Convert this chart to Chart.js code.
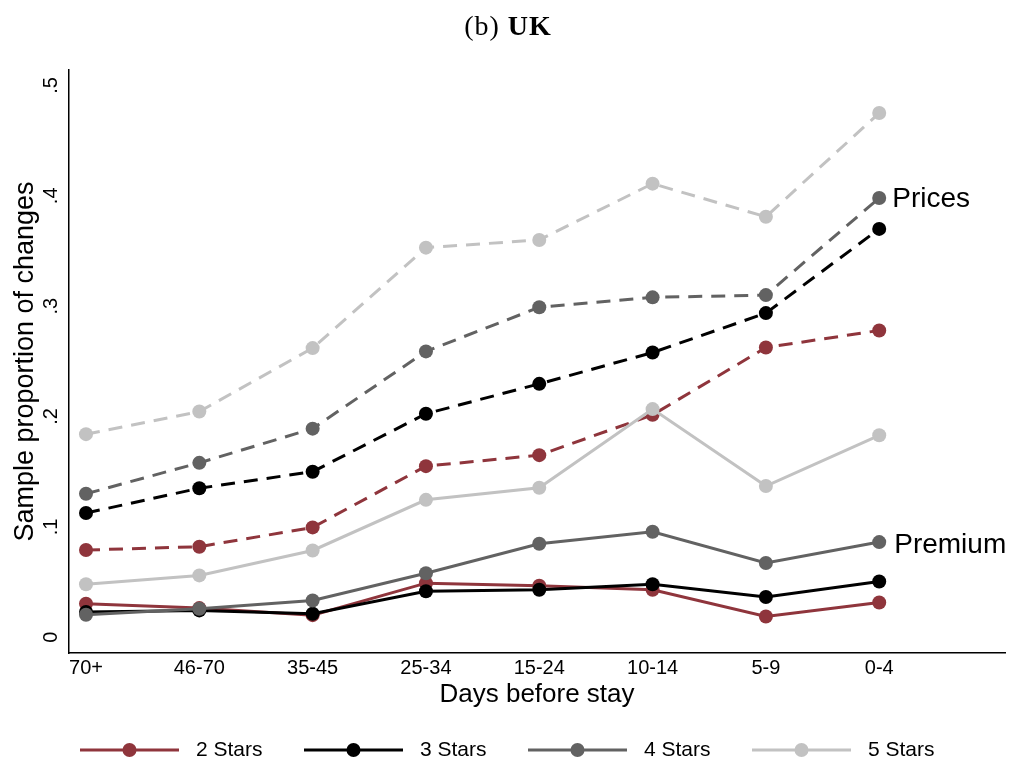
<!DOCTYPE html>
<html>
<head>
<meta charset="utf-8">
<script src="https://cdn.jsdelivr.net/npm/chart.js@4.4.0/dist/chart.umd.min.js"></script>
<style>
  html, body { margin: 0; padding: 0; background: #ffffff; }
  #wrap { width: 1017px; height: 762px; position: relative; }
</style>
</head>
<body>
<div id="wrap"><canvas id="c" width="1017" height="762"></canvas></div>
<script>
// Booking-window bins on the horizontal axis
const dayBins = ['70+', '46-70', '35-45', '25-34', '15-24', '10-14', '5-9', '0-4'];

// Hotel classes and their colours
const starLabels = ['2 Stars', '3 Stars', '4 Stars', '5 Stars'];
const starColors = ['#8f353c', '#000000', '#626262', '#c2c2c2'];

// Share of price changes (dashed lines)
const prices2 = [0.079, 0.082, 0.0995, 0.155, 0.165, 0.2015, 0.2625, 0.278];
const prices3 = [0.1125, 0.135, 0.150, 0.2025, 0.2296, 0.258, 0.2937, 0.370];
const prices4 = [0.130, 0.158, 0.189, 0.259, 0.299, 0.308, 0.310, 0.398];
const prices5 = [0.184, 0.2045, 0.262, 0.353, 0.360, 0.411, 0.381, 0.475];

// Share of premium changes (solid lines)
const premium2 = [0.0303, 0.0264, 0.020, 0.049, 0.0466, 0.043, 0.0188, 0.0315];
const premium3 = [0.0228, 0.0243, 0.0213, 0.0417, 0.043, 0.048, 0.0364, 0.0505];
const premium4 = [0.0204, 0.0258, 0.0333, 0.058, 0.0847, 0.0956, 0.0672, 0.0862];
const premium5 = [0.048, 0.056, 0.0786, 0.1245, 0.1354, 0.2067, 0.137, 0.183];

// Vertical axis ticks
const yTickValues = [0, 0.1, 0.2, 0.3, 0.4, 0.5];
const yTickLabels = ['0', '.1', '.2', '.3', '.4', '.5'];

const priceSeries = [prices2, prices3, prices4, prices5];
const premiumSeries = [premium2, premium3, premium4, premium5];

const toPoints = arr => arr.map((v, i) => ({ x: i, y: v }));

const datasets = [];
let drawIndex = 0;
const totalSeries = 8;
function addSeries(values, color, dashed, label) {
  datasets.push({
    label: label,
    data: toPoints(values),
    borderColor: color,
    backgroundColor: color,
    pointBackgroundColor: color,
    pointBorderColor: color,
    pointBorderWidth: 0,
    pointRadius: 7,
    pointHoverRadius: 7,
    borderWidth: 3,
    borderDash: dashed ? [14, 9] : [],
    tension: 0,
    fill: false,
    order: totalSeries - drawIndex
  });
  drawIndex++;
}
priceSeries.forEach((s, k) => addSeries(s, starColors[k], true, starLabels[k] + ' prices'));
premiumSeries.forEach((s, k) => addSeries(s, starColors[k], false, starLabels[k] + ' premium'));

const SANS = '"Liberation Sans", Arial, Helvetica, sans-serif';
const SERIF = '"Liberation Serif", "DejaVu Serif", serif';

const decorations = {
  id: 'decorations',
  afterDraw(chart) {
    const ctx = chart.ctx;
    const area = chart.chartArea;
    const xs = chart.scales.x;
    const ys = chart.scales.y;
    ctx.save();
    ctx.fillStyle = '#000';

    // Title: "(b) UK" with the country in bold
    ctx.textBaseline = 'alphabetic';
    ctx.letterSpacing = '1px';
    const normalFont = '28px ' + SERIF;
    const boldFont = 'bold 28px ' + SERIF;
    ctx.font = normalFont;
    const w1 = ctx.measureText('(b) ').width;
    ctx.font = boldFont;
    const w2 = ctx.measureText('UK').width;
    const tx = 508 - (w1 + w2) / 2;
    ctx.textAlign = 'left';
    ctx.font = normalFont;
    ctx.fillText('(b) ', tx, 35);
    ctx.font = boldFont;
    ctx.fillText('UK', tx + w1, 35);
    ctx.letterSpacing = '0px';

    // Vertical tick labels, rotated
    ctx.font = '20px ' + SANS;
    yTickValues.forEach((v, i) => {
      const py = ys.getPixelForValue(v);
      ctx.save();
      ctx.translate(57, py);
      ctx.rotate(-Math.PI / 2);
      ctx.textAlign = 'center';
      ctx.textBaseline = 'alphabetic';
      ctx.fillText(yTickLabels[i], 0, 0);
      ctx.restore();
    });

    // Horizontal tick labels
    ctx.textAlign = 'center';
    ctx.textBaseline = 'middle';
    dayBins.forEach((lab, i) => {
      ctx.fillText(lab, xs.getPixelForValue(i), 668);
    });

    // Axis titles
    ctx.font = '26px ' + SANS;
    ctx.textBaseline = 'alphabetic';
    ctx.fillText('Days before stay', (area.left + area.right) / 2, 702);
    ctx.save();
    ctx.font = '27px ' + SANS;
    ctx.translate(33, (area.top + area.bottom) / 2);
    ctx.rotate(-Math.PI / 2);
    ctx.textAlign = 'center';
    ctx.fillText('Sample proportion of changes', 0, 0);
    ctx.restore();

    // Series group labels at the last 4-star points
    const last = dayBins.length - 1;
    ctx.font = '28px ' + SANS;
    ctx.textAlign = 'left';
    ctx.fillText('Prices', xs.getPixelForValue(last) + 13, ys.getPixelForValue(prices4[last]) + 9);
    ctx.fillText('Premium', xs.getPixelForValue(last) + 15, ys.getPixelForValue(premium4[last]) + 11);

    // Legend
    const legendY = 750;
    ctx.font = '21px ' + SANS;
    ctx.textBaseline = 'middle';
    starLabels.forEach((lab, k) => {
      const x0 = 80 + k * 224;
      ctx.strokeStyle = starColors[k];
      ctx.fillStyle = starColors[k];
      ctx.lineWidth = 3;
      ctx.setLineDash([]);
      ctx.beginPath();
      ctx.moveTo(x0, legendY);
      ctx.lineTo(x0 + 99, legendY);
      ctx.stroke();
      ctx.beginPath();
      ctx.arc(x0 + 49.5, legendY, 7, 0, Math.PI * 2);
      ctx.fill();
      ctx.fillStyle = '#000';
      ctx.fillText(lab, x0 + 116, legendY);
    });
    ctx.restore();
  }
};

new Chart(document.getElementById('c'), {
  type: 'line',
  data: { datasets: datasets },
  options: {
    responsive: false,
    animation: false,
    devicePixelRatio: 1,
    layout: { padding: { top: 70, right: 12, bottom: 69, left: 0 } },
    plugins: {
      legend: { display: false },
      tooltip: { enabled: false },
      title: { display: false }
    },
    scales: {
      x: {
        type: 'linear',
        min: -0.15,
        max: 8.11,
        grid: { display: false, drawTicks: false },
        border: { display: true, color: '#000', width: 1.5 },
        ticks: { display: false },
        afterBuildTicks: s => { s.ticks = dayBins.map((_, i) => ({ value: i })); },
        afterFit: s => { s.height = 40; }
      },
      y: {
        type: 'linear',
        min: -0.0143,
        max: 0.514,
        grid: { display: false, drawTicks: false },
        border: { display: true, color: '#000', width: 1.5 },
        ticks: { display: false },
        afterBuildTicks: s => { s.ticks = yTickValues.map(v => ({ value: v })); },
        afterFit: s => { s.width = 69; }
      }
    }
  },
  plugins: [decorations]
});
</script>
</body>
</html>
